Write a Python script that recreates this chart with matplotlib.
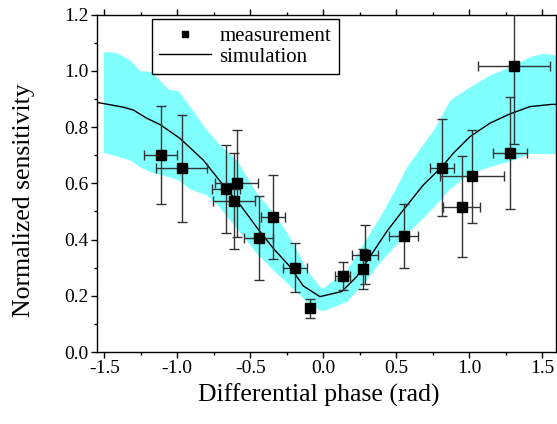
import matplotlib
matplotlib.use("Agg")
import matplotlib.pyplot as plt
from matplotlib.ticker import MultipleLocator
import numpy as np

# measured points
meas_x = [-1.114, -0.970, -0.668, -0.593, -0.611, -0.442, -0.342, -0.193, -0.090,
          0.134, 0.286, 0.273, 0.552, 0.814, 0.949, 1.020, 1.280, 1.308]
meas_y = [0.700, 0.654, 0.579, 0.600, 0.537, 0.406, 0.480, 0.300, 0.155,
          0.270, 0.346, 0.295, 0.413, 0.656, 0.517, 0.625, 0.707, 1.019]
meas_xerr = [0.113, 0.173, 0.096, 0.147, 0.143, 0.097, 0.081, 0.079, 0.02,
             0.050, 0.088, 0.03, 0.100, 0.082, 0.125, 0.218, 0.115, 0.249]
meas_yerr = [0.175, 0.190, 0.156, 0.190, 0.170, 0.150, 0.150, 0.087, 0.034,
             0.051, 0.105, 0.070, 0.113, 0.173, 0.180, 0.166, 0.200, 0.280]

# simulation curve
sim_x = [-1.552, -1.537, -1.370, -1.301, -1.210, -1.114, -0.981, -0.822, -0.685,
         -0.559, -0.456, -0.342, -0.228, -0.136, -0.022, 0.127, 0.230, 0.321,
         0.435, 0.549, 0.686, 0.814, 0.892, 1.006, 1.143, 1.280, 1.417, 1.566, 1.596]
sim_y = [0.886, 0.887, 0.871, 0.861, 0.832, 0.808, 0.760, 0.683, 0.594,
         0.517, 0.444, 0.369, 0.304, 0.235, 0.197, 0.215, 0.268, 0.339,
         0.428, 0.505, 0.594, 0.659, 0.707, 0.766, 0.814, 0.847, 0.873, 0.881, 0.881]

# simulation band (upper / lower edges)
band_x = [-1.507, -1.420, -1.324, -1.256, -1.176, -1.062, -0.993, -0.913, -0.799,
          -0.719, -0.593, -0.456, -0.319, -0.205, -0.113, -0.022, 0.001, 0.161,
          0.275, 0.389, 0.504, 0.572, 0.755, 0.869, 1.006, 1.143, 1.280, 1.417,
          1.509, 1.596]
band_hi = [1.069, 1.066, 1.039, 1.001, 0.998, 0.935, 0.930, 0.873, 0.790,
           0.743, 0.683, 0.565, 0.482, 0.387, 0.292, 0.232, 0.229, 0.292,
           0.387, 0.482, 0.589, 0.659, 0.790, 0.897, 0.944, 0.986, 1.015, 1.051,
           1.063, 1.057]
band_lo = [0.710, 0.698, 0.683, 0.659, 0.640, 0.624, 0.612, 0.580, 0.559,
           0.520, 0.440, 0.351, 0.280, 0.225, 0.180, 0.149, 0.147, 0.180,
           0.244, 0.320, 0.385, 0.420, 0.515, 0.582, 0.636, 0.660, 0.680, 0.707,
           0.706, 0.705]

plt.rcParams['font.family'] = ['Liberation Serif', 'DejaVu Serif']

fig = plt.figure(figsize=(5.57, 4.24), dpi=100)
ax = fig.add_axes([0.1736, 0.1698, 0.8246, 0.7955])

ax.fill_between(band_x, band_lo, band_hi, color='#80ffff', linewidth=0, zorder=1)
ax.plot(sim_x, sim_y, color='black', lw=1.0, zorder=3, label='simulation')
ax.errorbar(meas_x, meas_y, xerr=meas_xerr, yerr=meas_yerr, fmt='none',
            ecolor='#333333', elinewidth=1.0, capsize=3.5, capthick=1.0, zorder=4)
ax.plot(meas_x, meas_y, 's', color='black', ms=6.5, ls='none', zorder=5,
        label='measurement')

ax.set_xlim(-1.552, 1.596)
ax.set_ylim(0.0, 1.2)
ax.xaxis.set_major_locator(MultipleLocator(0.5))
ax.xaxis.set_minor_locator(MultipleLocator(0.25))
ax.yaxis.set_major_locator(MultipleLocator(0.2))
ax.yaxis.set_minor_locator(MultipleLocator(0.1))
ax.set_xticks(np.arange(-1.5, 1.51, 0.5))
ax.set_xticklabels(['-1.5', '-1.0', '-0.5', '0.0', '0.5', '1.0', '1.5'])
ax.set_yticklabels(['%.1f' % v for v in ax.get_yticks()])
ax.tick_params(which='both', direction='out', labelsize=14, width=1.0,
               top=True, right=True, pad=2)
ax.tick_params(which='major', length=4)
ax.tick_params(which='minor', length=2.5)
for s in ax.spines.values():
    s.set_linewidth(1.0)

ax.set_xlabel('Differential phase (rad)', fontsize=18.5)
ax.set_ylabel('Normalized sensitivity', fontsize=18.5)
ax.xaxis.set_label_coords(0.484, -0.093)
ax.yaxis.set_label_coords(-0.134, 0.45)

handles, labels = ax.get_legend_handles_labels()
leg = ax.legend(handles[::-1], labels[::-1], loc='upper left',
                bbox_to_anchor=(0.12, 0.987), borderaxespad=0, fontsize=15,
                fancybox=False, edgecolor='black', framealpha=1,
                handlelength=2.5, handletextpad=0.4, labelspacing=0.05,
                borderpad=0.35, markerscale=0.75)
leg.get_frame().set_linewidth(1.0)

fig.savefig('out.png', dpi=100)
